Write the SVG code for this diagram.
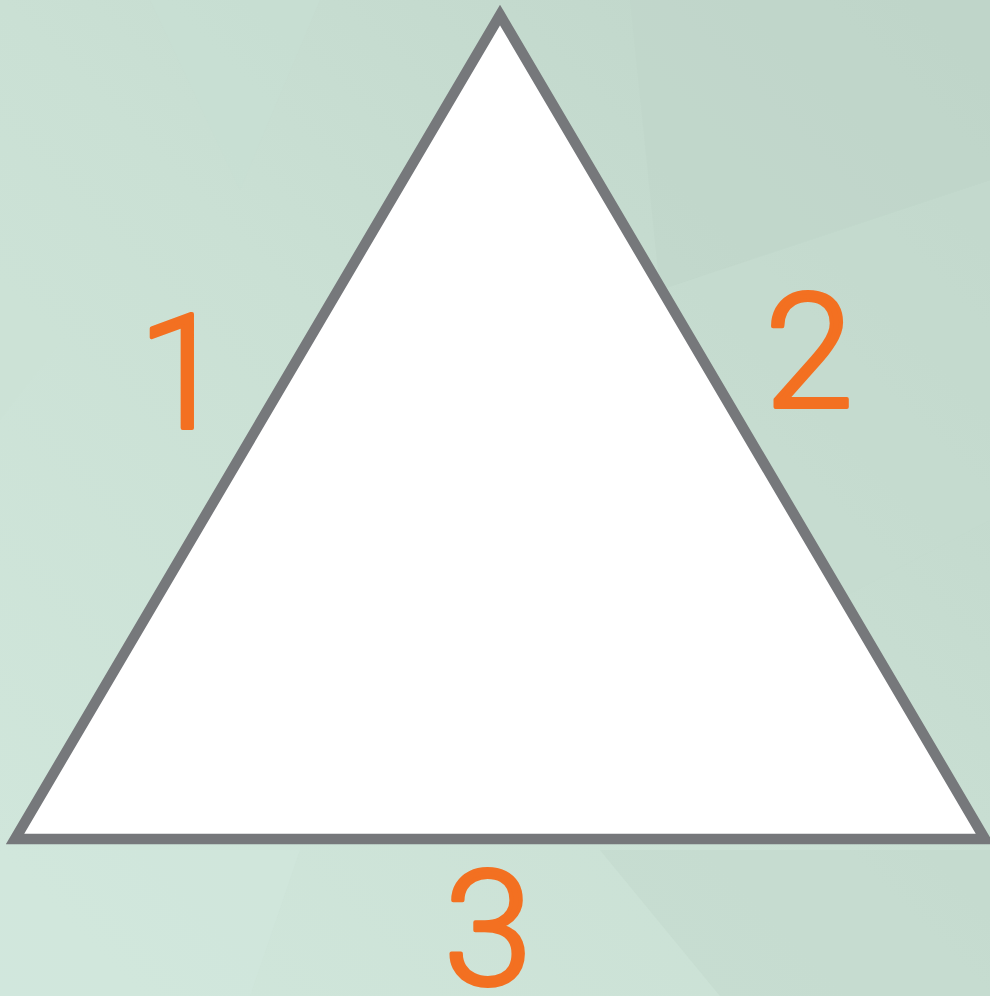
<svg xmlns="http://www.w3.org/2000/svg" width="990" height="996" viewBox="0 0 990 996">
<defs>
<linearGradient id="bg" x1="0" y1="1" x2="1" y2="0">
<stop offset="0" stop-color="#d1e7dc"/>
<stop offset="0.5" stop-color="#cae0d4"/>
<stop offset="1" stop-color="#bed4c8"/>
</linearGradient>
<style>
.lbl{font-family:Roboto,"Open Sans","Liberation Sans",sans-serif;font-weight:300;fill:#f37021;stroke:#f37021;stroke-width:4;stroke-linejoin:round;text-anchor:middle}
.facet{stroke:none}
</style>
</defs>
<rect width="990" height="996" fill="url(#bg)"/>
<g id="background-facets">
<polygon class="facet" points="630,0 990,0 990,180 660,290" fill="#bfd5c9" opacity="0.6"/>
<polygon class="facet" points="150,0 320,0 240,190" fill="#c8dfd3" opacity="0.5"/>
<polygon class="facet" points="0,230 70,330 0,420" fill="#cbe1d5" opacity="0.5"/>
<polygon class="facet" points="660,290 990,180 990,520 800,620" fill="#c5dbcf" opacity="0.5"/>
<polygon class="facet" points="0,850 300,850 250,996 0,996" fill="#d2e8dd" opacity="0.5"/>
<polygon class="facet" points="600,850 990,850 990,996 720,996" fill="#c2d8cb" opacity="0.5"/>
</g>
<g id="triangle">
<polygon points="500,15 985,839 15,839" fill="#ffffff" stroke="#76787b" stroke-width="10.5" stroke-linejoin="miter"/>
</g>
<g id="label-1"><text class="lbl" x="182" y="428" font-size="160">1</text></g>
<g id="label-2"><text class="lbl" x="809" y="407" font-size="160">2</text></g>
<g id="label-3"><text class="lbl" x="488" y="984" font-size="160">3</text></g>
</svg>
